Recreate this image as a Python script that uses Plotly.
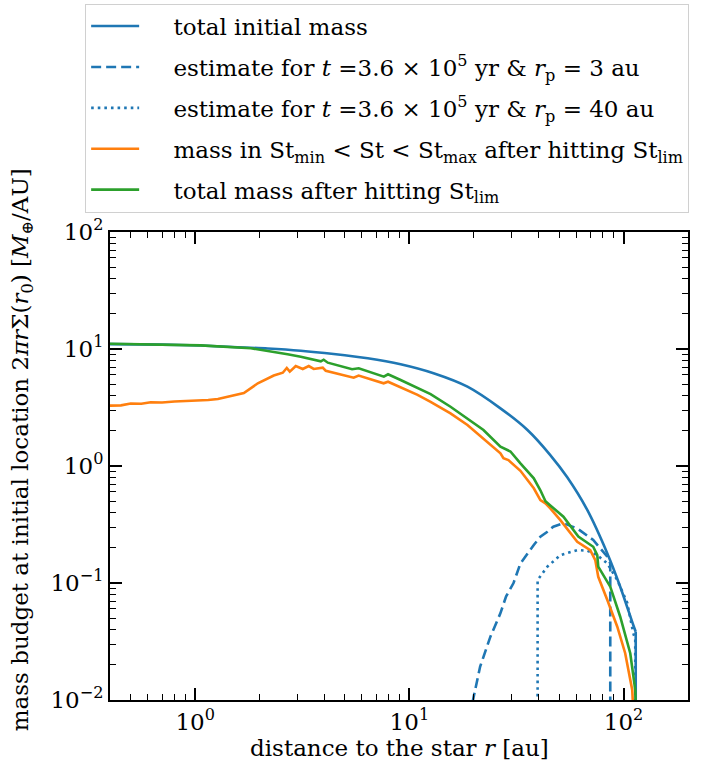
import plotly.graph_objects as go
import math

# ---- data ----
r_total = [0.40, 0.70, 1.06, 1.50, 2.18, 3.11, 4.43, 6.39, 9.10, 12.97, 18.67, 26.62,
           35.6, 45.5, 54.6, 67.7, 84.0, 96.5, 111.0, 114.0]
m_total = [11.0, 10.9, 10.7, 10.4, 10.1, 9.67, 9.06, 8.33, 7.40, 6.20, 4.76, 3.11,
           2.03, 1.24, 0.80, 0.421, 0.179, 0.093, 0.0438, 0.0383]
r_total_edge = [114.0, 114.0]
m_total_edge = [0.0383, 0.0001]

r_est3 = [19.7, 21.4, 23.9, 26.6, 28.3, 30.6, 33.0, 35.6, 38.1, 40.9, 44.1, 47.0, 52.4, 60.8,
          72.2, 84.0, 86.7, 86.7]
m_est3 = [0.0095, 0.0193, 0.0348, 0.055, 0.077, 0.0994, 0.147, 0.179, 0.211, 0.249, 0.274, 0.303,
          0.324, 0.293, 0.233, 0.168, 0.147, 0.0001]

r_est40 = [39.7, 39.7, 44.1, 50.7, 60.8, 67.7, 75.4, 84.0, 93.5, 104.1, 111.0, 113.4, 113.4]
m_est40 = [0.0001, 0.106, 0.138, 0.173, 0.191, 0.189, 0.173, 0.147, 0.106, 0.0675, 0.0374, 0.033, 0.0001]

r_st = [0.40, 0.45, 0.50, 0.56, 0.62, 0.70, 0.80, 0.886, 1.0, 1.063, 1.15, 1.276, 1.318, 1.515,
        1.687, 1.96, 2.327, 2.564, 2.676, 2.764, 2.948, 3.178, 3.39, 3.576, 3.939, 4.068, 5.494,
        5.797, 7.58, 7.95, 9.10, 10.92, 12.56, 15.56, 18.67, 22.18, 26.62, 27.49, 29.0, 33.0,
        38.1, 40.9, 43.2, 45.5, 50.7, 60.8, 69.9, 73.8, 76.2, 84.0, 93.5, 101.8, 109.8, 112.0]
m_st = [3.28, 3.30, 3.42, 3.40, 3.50, 3.49, 3.56, 3.58, 3.58, 3.61, 3.66, 3.74, 3.79, 3.97,
        4.20, 5.09, 5.93, 6.27, 6.88, 6.40, 7.15, 6.75, 7.15, 6.75, 6.92, 6.52, 5.68,
        5.93, 5.09, 5.25, 4.71, 4.05, 3.54, 2.82, 2.24, 1.725, 1.284, 1.164, 1.125, 0.91,
        0.645, 0.512, 0.48, 0.435, 0.345, 0.225, 0.191, 0.157, 0.113, 0.0716, 0.0423, 0.0251, 0.0122, 0.006]

r_lim = [0.40, 0.70, 1.06, 1.82, 2.59, 2.70, 3.11, 3.35, 3.74, 3.86, 3.98, 4.16, 5.40, 5.80,
         7.60, 7.95, 9.10, 10.92, 12.56, 15.56, 18.67, 22.18, 26.62, 28.7, 29.64, 33.0, 38.1,
         40.9, 43.2, 45.5, 48.0, 52.4, 61.5, 72.2, 75.4, 76.2, 86.7, 96.5, 107.5, 113.4, 115.0]
m_lim = [11.1, 10.95, 10.75, 10.14, 9.24, 9.01, 8.59, 8.33, 8.05, 7.85, 8.10, 7.64, 6.71, 6.84,
         5.80, 6.08, 5.43, 4.61, 4.12, 3.21, 2.56, 2.03, 1.46, 1.36, 1.33, 1.054, 0.785,
         0.62, 0.50, 0.46, 0.42, 0.369, 0.249, 0.204, 0.173, 0.138, 0.093, 0.0515, 0.0251, 0.0122, 0.006]

SP = "\u00a0\u00a0\u00a0\u00a0"
names = [
    SP + "total initial mass",
    SP + "estimate for <i>t</i> =3.6 × 10<sup>5</sup> yr &amp; <i>r</i><sub>p</sub> = 3 au",
    SP + "estimate for <i>t</i> =3.6 × 10<sup>5</sup> yr &amp; <i>r</i><sub>p</sub> = 40 au",
    SP + "mass in St<sub>min</sub> &lt; St &lt; St<sub>max</sub> after hitting St<sub>lim</sub>",
    SP + "total mass after hitting St<sub>lim</sub>",
]

x_major = [1, 10, 100]
x_major_text = ["10<sup>0</sup>", "10<sup>1</sup>", "10<sup>2</sup>"]
y_major = [0.01, 0.1, 1, 10, 100]
y_major_text = ["10<sup>−2</sup>", "10<sup>−1</sup>", "10<sup>0</sup>", "10<sup>1</sup>", "10<sup>2</sup>"]

FONT = "DejaVu Serif"
FS = 23
BLUE, ORANGE, GREEN = "#1f77b4", "#ff7f0e", "#2ca02c"
LW = 2.6

fig = go.Figure()
fig.add_trace(go.Scatter(x=r_total, y=m_total, mode="lines", name=names[0], legendgroup="0",
                         line=dict(color=BLUE, width=LW, shape="spline", smoothing=0.8)))
fig.add_trace(go.Scatter(x=r_total_edge, y=m_total_edge, mode="lines", showlegend=False,
                         legendgroup="0", line=dict(color=BLUE, width=LW)))
series = [
    (r_est3, m_est3, BLUE, "10px,5px"),
    (r_est40, m_est40, BLUE, "2.6px,4px"),
    (r_st, m_st, ORANGE, "solid"),
    (r_lim, m_lim, GREEN, "solid"),
]
for i, ((xs, ys, c, d), nm) in enumerate(zip(series, names[1:]), start=1):
    fig.add_trace(go.Scatter(x=xs, y=ys, mode="lines", name=nm, legendgroup=str(i),
                             line=dict(color=c, width=LW, dash=d)))

x_minor = [k * 10 ** e for e in (-1, 0, 1, 2) for k in range(2, 10) if 0.4 <= k * 10 ** e <= 200]
y_minor = [k * 10 ** e for e in (-2, -1, 0, 1) for k in range(2, 10)]

axis_common = dict(type="log", showgrid=False, zeroline=False, showline=True, linecolor="black",
                   linewidth=2, mirror="ticks", ticks="inside", ticklen=12, tickwidth=1.6,
                   tickcolor="black", tickfont=dict(family=FONT, size=FS, color="black"))

fig.update_xaxes(range=[math.log10(0.4), math.log10(200)], tickvals=x_major, ticktext=x_major_text,
                 minor=dict(tickvals=x_minor, ticks="inside", ticklen=6, tickwidth=1.4,
                            tickcolor="black", showgrid=False), **axis_common)
fig.update_yaxes(range=[-2, 2], tickvals=y_major, ticktext=y_major_text,
                 minor=dict(tickvals=y_minor, ticks="inside", ticklen=6, tickwidth=1.4,
                            tickcolor="black", showgrid=False), **axis_common)

fig.add_annotation(text="distance to the star <i>r</i> [au]", xref="paper", yref="paper",
                   x=0.5, y=-0.103, xanchor="center", yanchor="middle", showarrow=False,
                   font=dict(family=FONT, size=FS, color="black"))
fig.add_annotation(text="mass budget at initial location 2<i>πr</i>Σ(<i>r</i><sub>0</sub>) [<i>M</i><sub>⊕</sub>/AU]",
                   xref="paper", yref="paper", x=-0.152, y=0.534, xanchor="center", yanchor="middle",
                   textangle=-90, showarrow=False, font=dict(family=FONT, size=FS, color="black"))

fig.update_layout(
    width=704, height=776,
    margin=dict(l=110, r=16, t=232, b=76, autoexpand=False),
    paper_bgcolor="white", plot_bgcolor="white",
    font=dict(family=FONT, size=FS, color="black"),
    legend=dict(x=-0.043, y=1.488, xanchor="left", yanchor="top", bgcolor="white",
                bordercolor="#d0d0d0", borderwidth=1, tracegroupgap=8, itemwidth=48,
                font=dict(family=FONT, size=FS, color="black")),
)

fig.write_html("out.html")
